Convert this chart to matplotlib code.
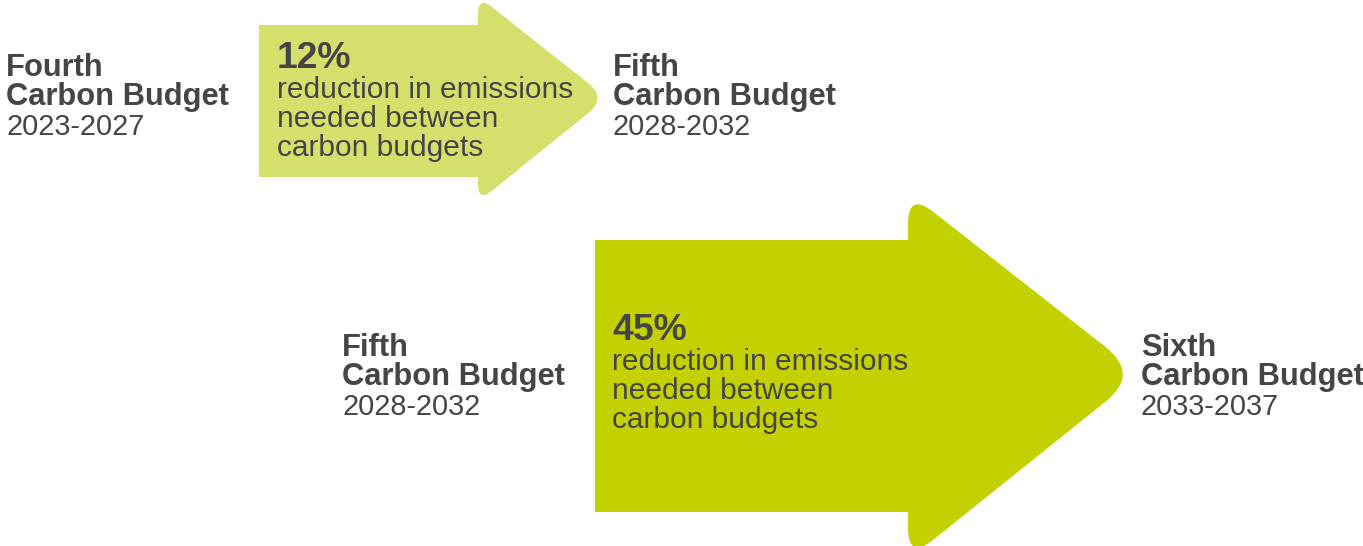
import numpy as np
import matplotlib
matplotlib.use("Agg")
import matplotlib.pyplot as plt
from matplotlib.path import Path
from matplotlib.patches import PathPatch

# ---- content ----
budget_names = ["Fourth", "Fifth", "Fifth", "Sixth"]
budget_years = ["2023-2027", "2028-2032", "2028-2032", "2033-2037"]
reductions = [12, 45]
reduction_text = ["reduction in emissions", "needed between", "carbon budgets"]
arrow_colors = ["#D5DF6B", "#C3D100"]
text_color = "#454545"

W, H = 1363, 546
fig = plt.figure(figsize=(W / 100, H / 100), dpi=100)
ax = fig.add_axes([0, 0, 1, 1])
ax.set_xlim(0, W)
ax.set_ylim(H, 0)
ax.axis("off")

FONT = "Liberation Sans"


def rounded_path(verts, radii):
    n = len(verts)
    v = [np.array(p, float) for p in verts]
    codes, pts = [], []
    for i in range(n):
        p = v[i]
        r = radii[i]
        if r <= 0:
            pts.append(p)
            codes.append(Path.MOVETO if i == 0 else Path.LINETO)
            continue
        prev = v[i - 1]
        nxt = v[(i + 1) % n]
        d1 = (p - prev) / np.linalg.norm(p - prev)
        d2 = (nxt - p) / np.linalg.norm(nxt - p)
        pin = p - d1 * r
        pout = p + d2 * r
        pts.append(pin)
        codes.append(Path.MOVETO if i == 0 else Path.LINETO)
        pts += [p, pout]
        codes += [Path.CURVE3, Path.CURVE3]
    pts.append(pts[0])
    codes.append(Path.CLOSEPOLY)
    return Path(pts, codes)


def arrow(x0, y0, x1, y1, hx, htop, tipx, tipy, hbot, r_corner, r_tip, color):
    verts = [(x0, y0), (hx, y0), (hx, htop), (tipx, tipy), (hx, hbot), (hx, y1), (x0, y1)]
    radii = [0, 0, r_corner, r_tip, r_corner, 0, 0]
    ax.add_patch(PathPatch(rounded_path(verts, radii), facecolor=color,
                           edgecolor="none", zorder=1))


arrow(259, 25, 478, 177, 478, -4, 607, 98, 202, 18, 24, arrow_colors[0])
arrow(595, 240, 908, 512, 908, 192, 1140, 374, 560, 32, 44, arrow_colors[1])

FSB = 22.2
FS = 20.8
LS = 29.5


def budget_block(x, y, name, years):
    ax.text(x, y, name, fontsize=FSB, fontweight="bold", color=text_color,
            family=FONT, va="baseline", ha="left")
    ax.text(x, y + LS, "Carbon Budget", fontsize=FSB, fontweight="bold",
            color=text_color, family=FONT, va="baseline", ha="left")
    ax.text(x, y + 2 * LS, years, fontsize=FS, color=text_color,
            family=FONT, va="baseline", ha="left")


budget_block(6, 76, budget_names[0], budget_years[0])
budget_block(613, 76, budget_names[1], budget_years[1])
budget_block(342, 356, budget_names[2], budget_years[2])
budget_block(1141, 356, budget_names[3], budget_years[3])


def reduction_block(x, y, pct):
    ax.text(x, y, f"{pct}%", fontsize=26.8, fontweight="bold", color=text_color,
            family=FONT, va="baseline", ha="left", zorder=3)
    for k, line in enumerate(reduction_text):
        ax.text(x, y + 30 + k * 29, line, fontsize=21.5, color=text_color,
                family=FONT, va="baseline", ha="left", zorder=3)


reduction_block(277, 68, reductions[0])
reduction_block(612, 340, reductions[1])

fig.savefig("out.png", dpi=100, facecolor="white")
